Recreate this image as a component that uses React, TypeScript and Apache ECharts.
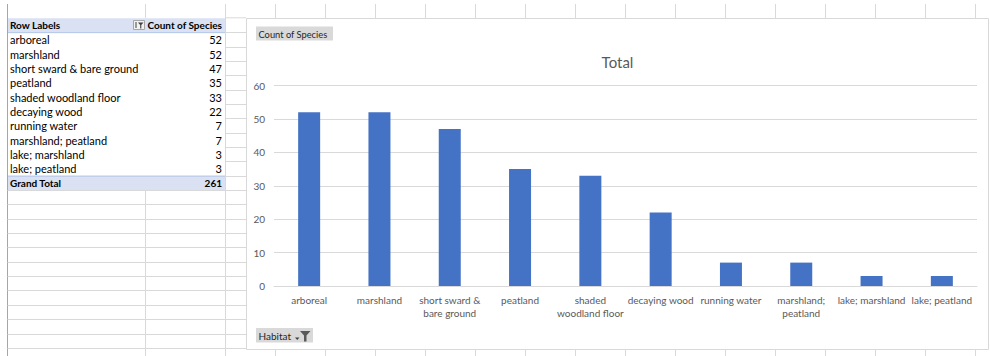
import React, { useEffect, useRef } from "react";
import * as echarts from "echarts";

const categories = [
  "arboreal",
  "marshland",
  "short sward & bare ground",
  "peatland",
  "shaded woodland floor",
  "decaying wood",
  "running water",
  "marshland; peatland",
  "lake; marshland",
  "lake; peatland",
];
const axisLabels = [
  "arboreal",
  "marshland",
  "short sward &\nbare ground",
  "peatland",
  "shaded\nwoodland floor",
  "decaying wood",
  "running water",
  "marshland;\npeatland",
  "lake; marshland",
  "lake; peatland",
];
const counts = [52, 52, 47, 35, 33, 22, 7, 7, 3, 3];
const grandTotal = 261;
const yTicks = [0, 10, 20, 30, 40, 50, 60];

const FONT = "Lato, 'Liberation Sans', sans-serif";
const ROW0 = 17.8;
const ROWH = 14.35;

export default function App() {
  const ref = useRef<HTMLDivElement>(null);
  useEffect(() => {
    if (!ref.current) return;
    const chart = echarts.init(ref.current, null, { renderer: "svg" });
    const g: any[] = [];
    const gridColor = "#D9D9D9";
    const line = (x1: number, y1: number, x2: number, y2: number, color = gridColor, z = -20) =>
      g.push({ type: "line", z, silent: true, shape: { x1, y1, x2, y2 }, style: { stroke: color, lineWidth: 1 } });

    // left window border
    line(7.5, 4, 7.5, 356, "#A6A6A6");
    // column lines in top band
    line(145.5, 4, 145.5, ROW0);
    line(225.5, 4, 225.5, 356);
    for (let x = 275.5; x <= 976; x += 50) {
      line(x, 4, x, 18);
      line(x, 350, x, 356);
    }
    line(225.5, ROW0, 246, ROW0);
    // row lines in column C between table and chart
    for (let k = 1; k * ROWH + ROW0 < 356; k++) {
      const y = Math.round(ROW0 + k * ROWH) + 0.5;
      line(225.5, y, 246, y);
      if (k >= 12) line(7.5, y, 225.5, y);
    }
    line(145.5, ROW0 + 12 * ROWH, 145.5, 356);

    // pivot table header / total fill
    const blue = "#D9E1F2";
    g.push({ type: "rect", z: -15, silent: true, shape: { x: 8, y: ROW0 + 0.5, width: 217, height: ROWH }, style: { fill: blue } });
    g.push({ type: "rect", z: -15, silent: true, shape: { x: 8, y: ROW0 + 11 * ROWH, width: 217, height: ROWH }, style: { fill: blue } });
    line(8, ROW0 + ROWH + 0.5, 225, ROW0 + ROWH + 0.5, "#B4C6E7", -14);
    line(8, ROW0 + 11 * ROWH + 0.5, 225, ROW0 + 11 * ROWH + 0.5, "#B4C6E7", -14);

    const txt = (text: string, x: number, y: number, opts: any = {}) =>
      g.push({
        type: "text",
        z: 5,
        silent: true,
        x,
        y,
        style: {
          text,
          fontFamily: FONT,
          fontSize: 11,
          fill: "#000",
          textVerticalAlign: "middle",
          verticalAlign: "middle",
          ...opts,
        },
      });

    txt("Row Labels", 10, ROW0 + ROWH / 2 + 0.5, { fontWeight: "bold", fontSize: 10 });
    txt("Count of Species", 222, ROW0 + ROWH / 2 + 0.5, { fontWeight: "bold", fontSize: 10, align: "right", textAlign: "right" });
    // filter icon in header
    g.push({ type: "rect", z: 4, silent: true, shape: { x: 133.5, y: 20.5, width: 11, height: 9 }, style: { fill: "#F2F2F2", stroke: "#A6A6A6", lineWidth: 1 } });
    g.push({ type: "polygon", z: 5, silent: true, shape: { points: [[138, 22.5], [143.5, 22.5], [141.3, 25], [141.3, 28.5], [140.2, 28.5], [140.2, 25]] }, style: { fill: "#404040" } });
    line(136, 22, 136, 28, "#404040", 5);

    categories.forEach((c, i) => {
      const cy = ROW0 + (i + 1) * ROWH + ROWH / 2 + 0.5;
      txt(c, 10, cy);
      txt(String(counts[i]), 222, cy, { align: "right", textAlign: "right" });
    });
    const gy = ROW0 + 11 * ROWH + ROWH / 2 + 0.5;
    txt("Grand Total", 10, gy, { fontWeight: "bold", fontSize: 10 });
    txt(String(grandTotal), 222, gy, { fontWeight: "bold", fontSize: 10, align: "right", textAlign: "right" });

    // chart box
    g.push({ type: "rect", z: -10, silent: true, shape: { x: 246.5, y: 18.5, width: 742, height: 331 }, style: { fill: "#fff", stroke: "#D9D9D9", lineWidth: 1 } });
    // title
    txt("Total", 617.5, 62, { fontSize: 15, fill: "#595959", align: "center", textAlign: "center" });
    // field buttons
    g.push({ type: "rect", z: 4, silent: true, shape: { x: 256, y: 26.5, width: 77, height: 14 }, style: { fill: "#D9D9D9" } });
    txt("Count of Species", 258.5, 34, { fontSize: 9.3, fill: "#262626" });
    g.push({ type: "rect", z: 4, silent: true, shape: { x: 256, y: 328, width: 57, height: 14.5 }, style: { fill: "#D9D9D9" } });
    txt("Habitat", 258.5, 335.5, { fontSize: 10, fill: "#262626" });
    g.push({ type: "polygon", z: 5, silent: true, shape: { points: [[295, 337.5], [299.5, 337.5], [297.25, 340]] }, style: { fill: "#404040" } });
    g.push({ type: "polygon", z: 5, silent: true, shape: { points: [[300, 331], [310.5, 331], [306.5, 335.5], [306.5, 341.5], [304, 341.5], [304, 335.5]] }, style: { fill: "#595959" } });

    chart.setOption({
      animation: false,
      grid: { left: 274, right: 13, top: 85.5, bottom: 70, containLabel: false },
      xAxis: {
        type: "category",
        data: axisLabels,
        axisTick: { show: false },
        axisLine: { lineStyle: { color: "#D9D9D9" } },
        axisLabel: {
          interval: 0,
          color: "#595959",
          fontFamily: FONT,
          fontSize: 10,
          lineHeight: 12.7,
          margin: 8,
        },
      },
      yAxis: {
        type: "value",
        min: 0,
        max: 60,
        interval: 10,
        axisLine: { show: false },
        axisTick: { show: false },
        splitLine: { lineStyle: { color: "#D9D9D9" } },
        axisLabel: {
          color: "#595959",
          fontFamily: FONT,
          fontSize: 10,
          margin: 9,
          formatter: (v: number) => (yTicks.includes(v) ? String(v) : ""),
        },
      },
      series: [
        {
          type: "bar",
          name: "Total",
          data: counts,
          barWidth: 22,
          itemStyle: { color: "#4472C4" },
        },
      ],
      graphic: { elements: g },
    });
    return () => chart.dispose();
  }, []);
  return (
    <div
      ref={ref}
      style={{ position: "fixed", left: 0, top: 0, width: 990, height: 356, background: "#fff" }}
    />
  );
}
